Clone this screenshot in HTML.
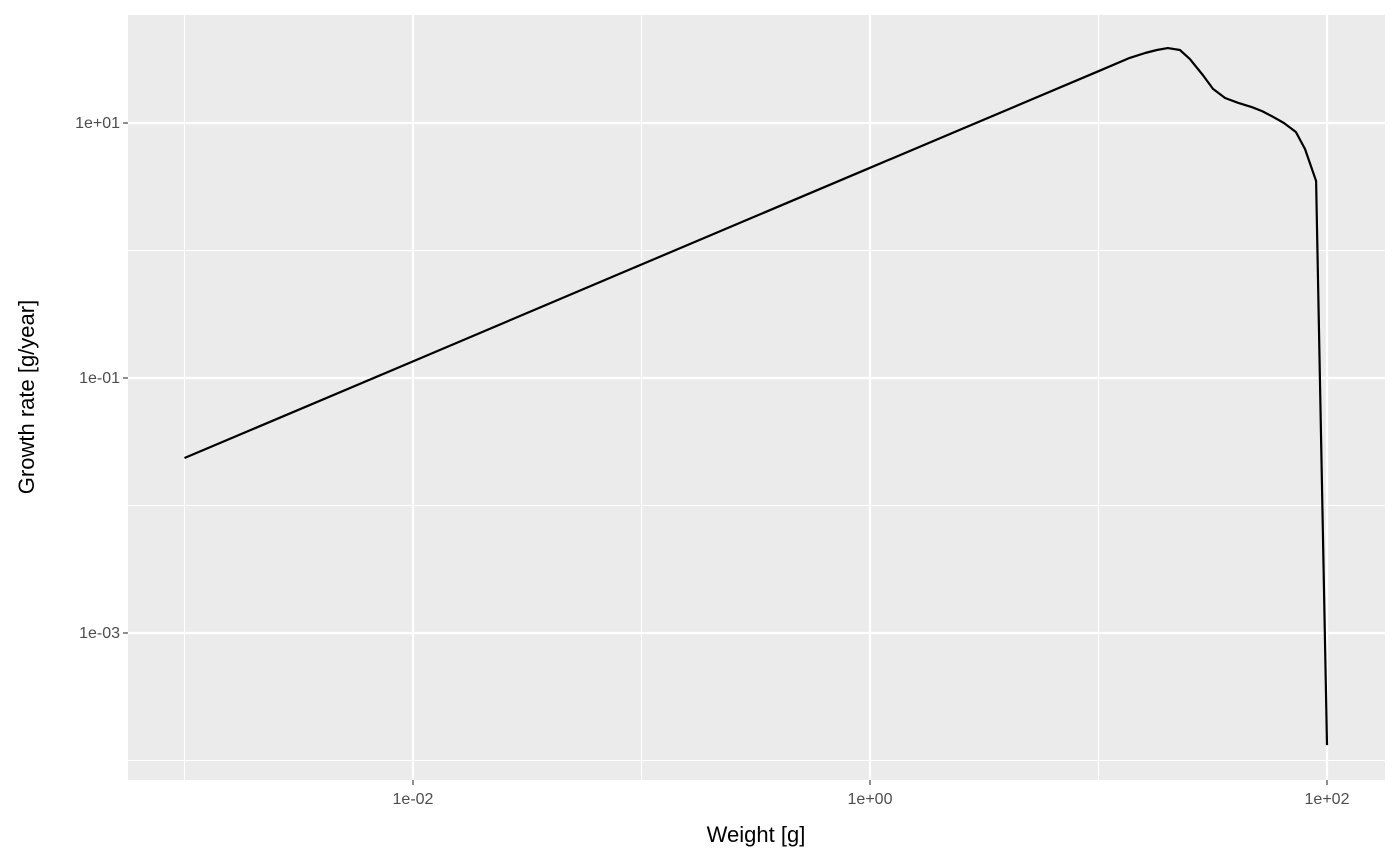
<!DOCTYPE html>
<html><head><meta charset="utf-8">
<style>
html,body{margin:0;padding:0;background:#fff;}
svg{display:block;font-family:"Liberation Sans",Arial,sans-serif;}
</style></head>
<body>
<svg id="chart" width="1400" height="865" viewBox="0 0 1400 865">
<rect x="128" y="15" width="1257" height="765" fill="#ebebeb"/>
<g id="grid"></g>
<g id="ticks"></g>
<path id="line" fill="none" stroke="#000" stroke-width="2.2" stroke-linejoin="round"/>
<text x="756" y="842" font-size="22" text-anchor="middle" fill="#000">Weight [g]</text>
<text transform="translate(34,397) rotate(-90)" font-size="22" text-anchor="middle" fill="#000">Growth rate [g/year]</text>
</svg>
<script>
const weights=[0.001,0.01,0.1,1,10,13.7,16.0,18.0,20.1,22.7,25.1,28.6,31.7,35.8,40.8,47.0,52.0,57.4,64.8,73.1,80.1,89.6,100];
const growth=[0.0236,0.135,0.777,4.45,25.5,32.4,35.4,37.4,38.7,37.4,31.8,23.8,18.5,15.7,14.4,13.3,12.4,11.3,10.0,8.5,6.25,3.51,0.000132];
const xMajor=[-2,0,2];
const xMinor=[-3,-1,1];
const yMajor=[1,-1,-3];
const yMinor=[0,-2,-4];
const xLabels=["1e-02","1e+00","1e+02"];
const yLabels=["1e+01","1e-01","1e-03"];

const X0=128,X1=1385,Y0=15,Y1=780;
function xs(lg){return 870+lg*228.5;}
function ys(lg){return 123-(lg-1)*127.5;}
const NS="http://www.w3.org/2000/svg";
const grid=document.getElementById('grid'), ticks=document.getElementById('ticks');
function ln(p,x1,y1,x2,y2,c,w){const l=document.createElementNS(NS,'line');l.setAttribute('x1',x1);l.setAttribute('y1',y1);l.setAttribute('x2',x2);l.setAttribute('y2',y2);l.setAttribute('stroke',c);l.setAttribute('stroke-width',w);p.appendChild(l);return l;}
function tx(p,x,y,s,anchor){const t=document.createElementNS(NS,'text');t.setAttribute('x',x);t.setAttribute('y',y);t.setAttribute('font-size','16');t.setAttribute('fill','#4d4d4d');t.setAttribute('text-anchor',anchor);t.textContent=s;p.appendChild(t);return t;}
xMinor.forEach(v=>{const l=ln(grid,xs(v),Y0,xs(v),Y1,'#fff',1.1);

});
yMinor.forEach(v=>{const l=ln(grid,X0,ys(v),X1,ys(v),'#fff',1.1);

});
xMajor.forEach((v,i)=>{const l=ln(grid,xs(v),Y0,xs(v),Y1,'#fff',2.2);


const t=ln(ticks,xs(v),Y1,xs(v),Y1+5,'#333',1.1);


const lb=tx(ticks,xs(v),Y1+24,xLabels[i],'middle');

});
yMajor.forEach((v,i)=>{const l=ln(grid,X0,ys(v),X1,ys(v),'#fff',2.2);


const t=ln(ticks,X0-5,ys(v),X0,ys(v),'#333',1.1);


const lb=tx(ticks,X0-8,ys(v)+5,yLabels[i],'end');

});
let d='';
weights.forEach((w,i)=>{d+=(i?'L':'M')+xs(Math.log10(w)).toFixed(1)+','+ys(Math.log10(growth[i])).toFixed(1);});
document.getElementById('line').setAttribute('d',d);
</script>
</body></html>
